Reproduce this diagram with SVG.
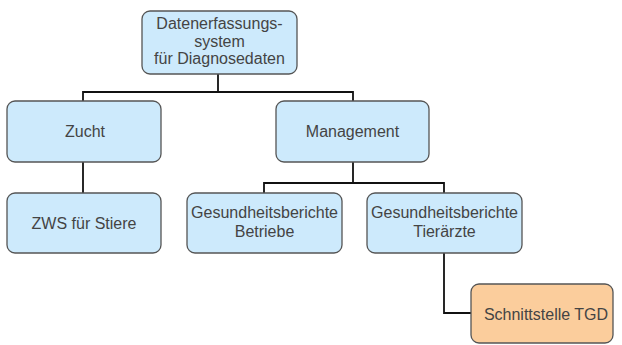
<svg xmlns="http://www.w3.org/2000/svg" width="622" height="345" viewBox="0 0 622 345">
<style>
.n{fill:#cdeafc;stroke:#555;stroke-width:1.3}
.o{fill:#fbcd9c;stroke:#555;stroke-width:1.3}
.c{fill:none;stroke:#111;stroke-width:1.8}
text{font-family:"Liberation Sans",Arial,sans-serif;font-size:16px;fill:#444;text-anchor:middle}
</style>
<rect width="622" height="345" fill="#fff"/>
<g id="connectors">
<path class="c" d="M218,74V92M83,101V92H353V101"/>
<path class="c" d="M83,162V193"/>
<path class="c" d="M353,162V183M264,193V183H444V193"/>
<path class="c" d="M444,253V313H471"/>
</g>
<g id="n1"><rect class="n" x="142" y="11" width="155" height="63" rx="8"/>
<text x="219.5" y="29">Datenerfassungs-</text><text x="219.5" y="46.5">system</text><text x="219.5" y="64">für Diagnosedaten</text></g>
<g id="n2"><rect class="n" x="7" y="101" width="154" height="61" rx="8"/><text x="85" y="137">Zucht</text></g>
<g id="n3"><rect class="n" x="276" y="101" width="153" height="61" rx="8"/><text x="352.5" y="137">Management</text></g>
<g id="n4"><rect class="n" x="7" y="193" width="154" height="60" rx="8"/><text x="84" y="229">ZWS für Stiere</text></g>
<g id="n5"><rect class="n" x="187" y="193" width="155" height="60" rx="8"/><text x="264.5" y="218" textLength="147" lengthAdjust="spacingAndGlyphs">Gesundheitsberichte</text><text x="264.5" y="237">Betriebe</text></g>
<g id="n6"><rect class="n" x="367" y="193" width="155" height="60" rx="8"/><text x="444.5" y="218" textLength="147" lengthAdjust="spacingAndGlyphs">Gesundheitsberichte</text><text x="444.5" y="237">Tierärzte</text></g>
<g id="n7"><rect class="o" x="471" y="284" width="142" height="59" rx="8"/><text x="546" y="320">Schnittstelle TGD</text></g>
</svg>
